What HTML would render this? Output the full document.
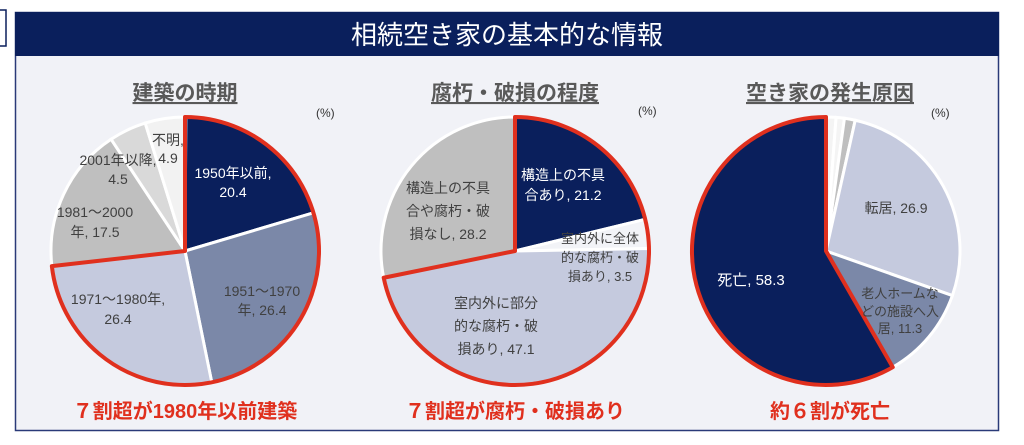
<!DOCTYPE html>
<html><head><meta charset="utf-8"><style>
body{margin:0;background:#fff;width:1024px;height:440px;overflow:hidden;font-family:"Liberation Sans","Noto Sans CJK JP",sans-serif}
</style></head><body>
<svg id="s" width="1024" height="440" xmlns="http://www.w3.org/2000/svg" font-family="Liberation Sans, Noto Sans CJK JP, sans-serif">
<rect x="-2" y="10" width="8" height="36" fill="none" stroke="#0a1f5c" stroke-width="1.5"/>
<rect x="15.5" y="12.5" width="983" height="418" fill="#f1f2f7" stroke="#2a3a78" stroke-width="1.5"/>
<rect x="15" y="12" width="984" height="44" fill="#0a1f5c"/>
<text x="507" y="44" fill="#fff" font-size="26" text-anchor="middle">相続空き家の基本的な情報</text>
<g font-size="21" font-weight="bold" fill="#595959" text-anchor="middle" text-decoration="underline">
<text x="185" y="100">建築の時期</text><text x="515" y="100">腐朽・破損の程度</text><text x="830" y="100">空き家の発生原因</text>
</g>
<g font-size="12" fill="#333"><text x="316" y="117">(%)</text><text x="638" y="115">(%)</text><text x="931" y="117">(%)</text></g>
<g id="pies"></g>
<g font-size="14" fill="#404040" text-anchor="middle">
<text x="233" y="178" fill="#fff">1950年以前,</text><text x="233" y="197" fill="#fff">20.4</text>
<text x="262" y="296">1951～1970</text><text x="262" y="315">年, 26.4</text>
<text x="118" y="304">1971～1980年,</text><text x="118" y="324">26.4</text>
<text x="95" y="217">1981～2000</text><text x="95" y="237">年, 17.5</text>
<text x="118" y="165">2001年以降,</text><text x="118" y="184">4.5</text>
<text x="168" y="145">不明,</text><text x="168" y="163">4.9</text>
<text x="563" y="180" fill="#fff">構造上の不具</text><text x="563" y="200" fill="#fff">合あり, 21.2</text>
<text x="600" y="243" font-size="13">室内外に全体</text><text x="600" y="262" font-size="13">的な腐朽・破</text><text x="600" y="281" font-size="13">損あり, 3.5</text>
<text x="448" y="193">構造上の不具</text><text x="448" y="216">合や腐朽・破</text><text x="448" y="239">損なし, 28.2</text>
<text x="496" y="308">室内外に部分</text><text x="496" y="331">的な腐朽・破</text><text x="496" y="354">損あり, 47.1</text>
<text x="896" y="213">転居, 26.9</text>
<text x="751" y="285" fill="#fff" font-size="15">死亡, 58.3</text>
<text x="900" y="298" font-size="13">老人ホームな</text><text x="900" y="316" font-size="13">どの施設へ入</text><text x="900" y="333" font-size="13">居, 11.3</text>
</g>
<g font-size="20" font-weight="bold" fill="#e0301e" text-anchor="middle">
<text x="185" y="418">７割超が1980年以前建築</text><text x="515" y="418">７割超が腐朽・破損あり</text><text x="830" y="418">約６割が死亡</text>
</g>
</svg>
<script>
const NS="http://www.w3.org/2000/svg",g=document.getElementById("pies");
function pt(cx,cy,r,f){const a=f*2*Math.PI;return [cx+r*Math.sin(a),cy-r*Math.cos(a)];}
function arc(cx,cy,r,a,b){const p=pt(cx,cy,r,a),q=pt(cx,cy,r,b);return `M${cx},${cy}L${p[0]},${p[1]}A${r},${r} 0 ${b-a>0.5?1:0} 1 ${q[0]},${q[1]}Z`;}
function pie(cx,cy,r,sl,red){let s=0;for(const [v,c] of sl){const e=s+v/100;const p=document.createElementNS(NS,"path");p.setAttribute("d",arc(cx,cy,r,s,e));p.setAttribute("fill",c);p.setAttribute("stroke","#fff");p.setAttribute("stroke-width","3");g.appendChild(p);s=e;}
const p=document.createElementNS(NS,"path");p.setAttribute("d",arc(cx,cy,r,red[0],red[1]));p.setAttribute("fill","none");p.setAttribute("stroke","#e0301e");p.setAttribute("stroke-width","4");p.setAttribute("stroke-linejoin","round");g.appendChild(p);}
pie(185,251,134,[[20.4,"#0a1f5c"],[26.4,"#7b88a8"],[26.4,"#c5cade"],[17.5,"#bfbfbf"],[4.5,"#d9d9d9"],[4.9,"#f2f2f2"]],[0,0.732]);
pie(515,251,134,[[21.2,"#0a1f5c"],[3.5,"#f2f3f7"],[47.1,"#c5cade"],[28.2,"#bfbfbf"]],[0,0.718]);
pie(826,251,134,[[1.2,"#f4f4f4"],[1.0,"#f4f4f4"],[1.3,"#bfbfbf"],[26.9,"#c5cade"],[11.3,"#7b88a8"],[58.3,"#0a1f5c"]],[0.417,1]);
</script>
</body></html>
